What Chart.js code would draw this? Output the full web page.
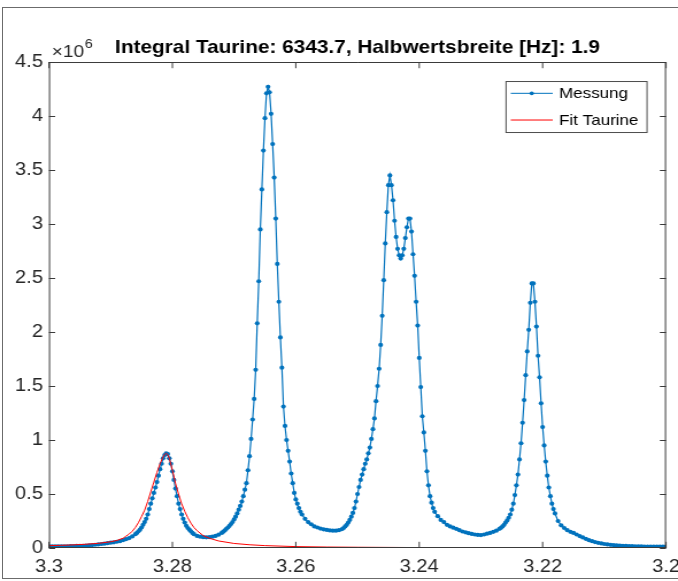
<!DOCTYPE html>
<html>
<head>
<meta charset="utf-8">
<script src="https://cdn.jsdelivr.net/npm/chart.js@4.4.1/dist/chart.umd.min.js"></script>
<style>
  html, body { margin: 0; padding: 0; background: #fff; overflow: hidden; }
  #frame { position: absolute; left: 2px; top: 7px; width: 720px; height: 570px; border: 1px solid #6b6b6b; }
  #wrap { position: absolute; left: 0; top: 0; width: 590px; height: 581px; transform: scaleX(1.149153); transform-origin: 0 0; }
</style>
</head>
<body>
<div id="frame"></div>
<div id="wrap"><canvas id="spectrum" width="590" height="581"></canvas></div>
<script>
// Messung (ppm, Intensität in 10^6)
var messungPpm = [
  3.3, 3.2995, 3.299, 3.2985, 3.298, 3.2975, 3.297, 3.2965, 3.296, 3.2955,
  3.295, 3.2945, 3.294, 3.2935, 3.293, 3.2925, 3.292, 3.2915, 3.291, 3.2905,
  3.29, 3.2895, 3.289, 3.2885, 3.288, 3.2875, 3.287, 3.2865, 3.286,
  3.28575, 3.2855, 3.28525, 3.285, 3.28475, 3.2845, 3.28425, 3.284, 3.28375, 3.2835,
  3.28325, 3.283, 3.28275, 3.2825, 3.28225, 3.282, 3.28175, 3.2815, 3.28125, 3.281,
  3.28075, 3.2805, 3.28025, 3.28, 3.27975, 3.2795, 3.27925, 3.279, 3.27875, 3.2785,
  3.27825, 3.278, 3.27775, 3.2775, 3.27725, 3.277, 3.27675, 3.2765,
  3.276, 3.2755, 3.275, 3.2745, 3.274, 3.2735, 3.273, 3.2725, 3.272,
  3.27175, 3.2715, 3.27125, 3.271, 3.27075, 3.2705, 3.27025, 3.27, 3.26975, 3.2695,
  3.26925, 3.269, 3.26875, 3.2685, 3.26825, 3.268, 3.26775, 3.2675, 3.26725, 3.267,
  3.26675, 3.2665, 3.26625, 3.266, 3.26575, 3.2655, 3.26525, 3.265, 3.26475, 3.2645,
  3.26425, 3.264, 3.26375, 3.2635, 3.26325, 3.263, 3.26275, 3.2625, 3.26225, 3.262,
  3.26175, 3.2615, 3.26125, 3.261, 3.26075, 3.2605, 3.26025, 3.26, 3.25975, 3.2595,
  3.25925, 3.259,
  3.2585, 3.258, 3.2575, 3.257, 3.2565, 3.256, 3.2555, 3.255, 3.2545, 3.254,
  3.2535, 3.253, 3.2525,
  3.25225, 3.252, 3.25175, 3.2515, 3.25125, 3.251, 3.25075, 3.2505, 3.25025, 3.25,
  3.24975, 3.2495, 3.24925, 3.249, 3.24875, 3.2485, 3.24825, 3.248, 3.24775, 3.2475,
  3.24725, 3.247, 3.24675, 3.2465, 3.24625, 3.246, 3.24575, 3.2455, 3.24525, 3.245,
  3.24475, 3.2445, 3.24425, 3.244, 3.24375, 3.2435, 3.24325, 3.243, 3.24275, 3.2425,
  3.24225, 3.242, 3.24175, 3.2415, 3.24125, 3.241, 3.24075, 3.2405, 3.24025, 3.24,
  3.23975, 3.2395, 3.23925, 3.239, 3.23875, 3.2385, 3.23825, 3.238, 3.23775, 3.2375,
  3.237, 3.2365, 3.236, 3.2355, 3.235, 3.2345, 3.234, 3.2335, 3.233, 3.2325,
  3.232, 3.2315, 3.231, 3.2305, 3.23, 3.2295, 3.229, 3.2285, 3.228, 3.2275, 3.227,
  3.22675, 3.2265, 3.22625, 3.226, 3.22575, 3.2255, 3.22525, 3.225, 3.22475, 3.2245,
  3.22425, 3.224, 3.22375, 3.2235, 3.22325, 3.223, 3.22275, 3.2225, 3.22225, 3.222,
  3.22175, 3.2215, 3.22125, 3.221, 3.22075, 3.2205, 3.22025, 3.22, 3.21975, 3.2195,
  3.21925, 3.219, 3.21875, 3.2185, 3.21825, 3.218,
  3.2175, 3.217, 3.2165, 3.216, 3.2155, 3.215, 3.2145, 3.214, 3.2135, 3.213,
  3.2125, 3.212, 3.2115, 3.211, 3.2105, 3.21, 3.2095, 3.209, 3.2085, 3.208,
  3.2075, 3.207, 3.2065, 3.206, 3.2055, 3.205, 3.2045, 3.204, 3.2035, 3.203,
  3.2025, 3.202, 3.2015, 3.201, 3.2005, 3.2
];
var messungMio = [
  0.015, 0.015, 0.015, 0.015, 0.015, 0.016, 0.016, 0.017, 0.018, 0.019,
  0.020, 0.021, 0.023, 0.024, 0.027, 0.030, 0.033, 0.037, 0.040, 0.045,
  0.049, 0.053, 0.058, 0.063, 0.072, 0.082, 0.092, 0.107, 0.128,
  0.14, 0.155, 0.17, 0.19, 0.215, 0.24, 0.27, 0.31, 0.36, 0.41,
  0.46, 0.51, 0.56, 0.61, 0.67, 0.73, 0.78, 0.83, 0.86, 0.877,
  0.87, 0.83, 0.78, 0.71, 0.63, 0.55, 0.48, 0.41, 0.36, 0.31,
  0.27, 0.235, 0.205, 0.185, 0.17, 0.155, 0.14, 0.128,
  0.112, 0.105, 0.100, 0.099, 0.100, 0.105, 0.112, 0.123, 0.14,
  0.151, 0.163, 0.178, 0.19, 0.205, 0.222, 0.24, 0.265, 0.29, 0.32,
  0.355, 0.39, 0.43, 0.48, 0.54, 0.60, 0.72, 0.85, 1.01, 1.19,
  1.38, 1.65, 2.08, 2.47, 2.95, 3.32, 3.68, 3.98, 4.21, 4.27,
  4.22, 4.02, 3.74, 3.43, 3.05, 2.63, 2.28, 1.95, 1.67, 1.31,
  1.13, 1.00, 0.90, 0.80, 0.69, 0.60, 0.51, 0.45, 0.41, 0.37,
  0.335, 0.31,
  0.27, 0.24, 0.22, 0.20, 0.19, 0.18, 0.173, 0.167, 0.163, 0.16,
  0.16, 0.165, 0.175,
  0.185, 0.20, 0.215, 0.235, 0.26, 0.29, 0.325, 0.37, 0.43, 0.50,
  0.565, 0.63, 0.68, 0.73, 0.78, 0.82, 0.877, 0.93, 1.01, 1.10,
  1.20, 1.36, 1.50, 1.66, 1.88, 2.15, 2.48, 2.82, 3.11, 3.36,
  3.45, 3.36, 3.22, 3.03, 2.88, 2.77, 2.71, 2.68, 2.71, 2.77,
  2.87, 2.97, 3.05, 3.05, 2.93, 2.72, 2.52, 2.28, 2.06, 1.76,
  1.49, 1.22, 1.07, 0.90, 0.71, 0.58, 0.48, 0.42, 0.37, 0.335,
  0.295, 0.26, 0.24, 0.215, 0.20, 0.188, 0.178, 0.165, 0.153, 0.145,
  0.137, 0.13, 0.125, 0.121, 0.12, 0.125, 0.133, 0.14, 0.15, 0.16, 0.178,
  0.187, 0.20, 0.215, 0.235, 0.255, 0.28, 0.31, 0.355, 0.41, 0.49,
  0.58, 0.68, 0.82, 0.97, 1.16, 1.37, 1.60, 1.82, 2.02, 2.27,
  2.45, 2.45, 2.28, 2.05, 1.78, 1.58, 1.34, 1.12, 0.95, 0.80,
  0.67, 0.56, 0.48, 0.41, 0.36, 0.32,
  0.25, 0.21, 0.185, 0.165, 0.15, 0.14, 0.125, 0.11, 0.098, 0.085,
  0.072, 0.063, 0.055, 0.048, 0.042, 0.037, 0.033, 0.029, 0.026, 0.024,
  0.022, 0.020, 0.019, 0.018, 0.017, 0.016, 0.015, 0.015, 0.014, 0.014,
  0.013, 0.013, 0.013, 0.012, 0.012, 0.012
];

// Fit Taurine
var fitPpm = [
  3.3, 3.298, 3.296, 3.294, 3.292, 3.29, 3.289, 3.288, 3.2875, 3.287,
  3.2865, 3.286, 3.2855, 3.285, 3.2845, 3.284, 3.2835, 3.283, 3.2825, 3.282,
  3.2815, 3.28125, 3.281, 3.28075, 3.2805, 3.28, 3.2795, 3.279, 3.2785, 3.278,
  3.2775, 3.277, 3.2765, 3.276, 3.275, 3.274, 3.2725, 3.27, 3.2675, 3.265,
  3.26, 3.255, 3.25, 3.24, 3.23, 3.22, 3.21, 3.2
];
var fitMio = [
  0.022, 0.025, 0.029, 0.035, 0.043, 0.058, 0.07, 0.09, 0.11, 0.13,
  0.155, 0.19, 0.235, 0.29, 0.35, 0.43, 0.52, 0.61, 0.70, 0.78,
  0.845, 0.867, 0.877, 0.865, 0.83, 0.72, 0.60, 0.50, 0.41, 0.34,
  0.28, 0.23, 0.19, 0.16, 0.115, 0.09, 0.065, 0.042, 0.03, 0.022,
  0.013, 0.009, 0.007, 0.004, 0.003, 0.002, 0.002, 0.001
];

var xTicks = [3.3, 3.28, 3.26, 3.24, 3.22, 3.2];
var yTicks = [0, 0.5, 1, 1.5, 2, 2.5, 3, 3.5, 4, 4.5];
var titleText = "Integral Taurine: 6343.7, Halbwertsbreite [Hz]: 1.9";
var fontFamily = "'Liberation Sans', Arial, Helvetica, sans-serif";
var stretch = 678 / 590;

function toPoints(xs, ys) {
  var pts = [];
  for (let i = 0; i < xs.length; i++) {
    pts.push({x: xs[i], y: ys[i]});
  }
  return pts;
}

function fmt(v) {
  return String(+v.toFixed(2));
}

// box with inward ticks on all four sides, like the MATLAB axes
var axesBox = {
  id: "axesBox",
  afterDraw: function(chart) {
    var ctx = chart.ctx;
    var a = chart.chartArea;
    var x = chart.scales.x;
    var y = chart.scales.y;
    var tx = 6.2;
    var ty = 6.2 / stretch;

    ctx.save();
    ctx.strokeStyle = "#3a3a3a";
    ctx.lineWidth = 1;
    ctx.beginPath();
    ctx.moveTo(a.left, a.top + 0.5);
    ctx.lineTo(a.right, a.top + 0.5);
    ctx.moveTo(a.left, a.bottom - 0.5);
    ctx.lineTo(a.right, a.bottom - 0.5);
    ctx.moveTo(a.left + 0.5, a.top);
    ctx.lineTo(a.left + 0.5, a.bottom);
    ctx.moveTo(a.right - 0.5, a.top);
    ctx.lineTo(a.right - 0.5, a.bottom);

    x.ticks.forEach(function(t) {
      var px = x.getPixelForValue(t.value);
      ctx.moveTo(px, a.bottom);
      ctx.lineTo(px, a.bottom - tx);
      ctx.moveTo(px, a.top);
      ctx.lineTo(px, a.top + tx);
    });
    y.ticks.forEach(function(t) {
      var py = Math.round(y.getPixelForValue(t.value)) + 0.5;
      ctx.moveTo(a.left, py);
      ctx.lineTo(a.left + ty, py);
      ctx.moveTo(a.right, py);
      ctx.lineTo(a.right - ty, py);
    });
    ctx.stroke();

    // exponent label
    ctx.fillStyle = "#262626";
    ctx.textBaseline = "alphabetic";
    ctx.textAlign = "left";
    ctx.font = "16.5px " + fontFamily;
    ctx.fillText("\u00d710", a.left + 2.5, 56.8);
    var w = ctx.measureText("\u00d710").width;
    ctx.font = "12.5px " + fontFamily;
    ctx.fillText("6", a.left + 2.5 + w + 0.6, 48.3);
    ctx.restore();
  }
};

var legendBox = {
  id: "legendBox",
  afterDraw: function(chart) {
    var ctx = chart.ctx;
    var a = chart.chartArea;
    var left = a.right - 160 / stretch;
    var right = a.right - 19 / stretch;
    var top = a.top + 19;
    var bottom = a.top + 70;

    ctx.save();
    ctx.fillStyle = "#fff";
    ctx.fillRect(left, top, right - left, bottom - top);
    ctx.strokeStyle = "#4d4d4d";
    ctx.lineWidth = 1;
    ctx.strokeRect(left, top + 0.5, right - left, bottom - top);

    chart.data.datasets.forEach(function(ds, i) {
      var yy = top + 12.3 + i * 26.7;
      ctx.strokeStyle = ds.borderColor;
      ctx.lineWidth = 1;
      ctx.beginPath();
      ctx.moveTo(left + 4.7 / stretch, yy);
      ctx.lineTo(left + 46.7 / stretch, yy);
      ctx.stroke();
      if (ds.pointRadius > 0) {
        ctx.fillStyle = ds.pointBackgroundColor;
        ctx.beginPath();
        ctx.arc(left + 25.7 / stretch, yy, 1.9, 0, Math.PI * 2);
        ctx.fill();
      }
      ctx.fillStyle = "#000";
      ctx.font = "14.8px " + fontFamily;
      ctx.textBaseline = "middle";
      ctx.textAlign = "left";
      ctx.fillText(ds.label, left + 53 / stretch, yy + 0.5);
    });
    ctx.restore();
  }
};

var spectrumChart = new Chart(document.getElementById("spectrum"), {
  type: "line",
  data: {
    datasets: [
      {
        label: "Messung",
        data: toPoints(messungPpm, messungMio),
        borderColor: "#0072BD",
        borderWidth: 1.2,
        pointRadius: 2.1,
        pointBackgroundColor: "#0072BD",
        pointBorderWidth: 0,
        tension: 0,
        order: 1
      },
      {
        label: "Fit Taurine",
        data: toPoints(fitPpm, fitMio),
        borderColor: "#ff0000",
        borderWidth: 1,
        pointRadius: 0,
        tension: 0,
        order: 0
      }
    ]
  },
  options: {
    responsive: false,
    animation: false,
    devicePixelRatio: 1,
    locale: "en-US",
    layout: { padding: { left: 0, right: 10.4, top: 0, bottom: 0 } },
    plugins: {
      legend: { display: false },
      tooltip: { enabled: false },
      title: {
        display: true,
        text: titleText,
        fullSize: false,
        color: "#000",
        font: { family: fontFamily, size: 18.1, weight: "bold", lineHeight: 1.2 },
        padding: { top: 37, bottom: 3.3 }
      }
    },
    scales: {
      x: {
        type: "linear",
        reverse: true,
        min: 3.2,
        max: 3.3,
        grid: { display: false, drawTicks: false },
        border: { display: false },
        afterBuildTicks: function(scale) {
          scale.ticks = xTicks.map(function(v) { return {value: v}; });
        },
        afterFit: function(scale) {
          scale.height = 33;
          scale.paddingLeft = 0;
          scale.paddingRight = 0;
        },
        ticks: {
          autoSkip: false,
          maxRotation: 0,
          padding: 8.5,
          color: "#262626",
          font: { family: fontFamily, size: 17.5 },
          callback: function(v) { return fmt(v); }
        }
      },
      y: {
        min: 0,
        max: 4.5,
        grid: { display: false, drawTicks: false },
        border: { display: false },
        afterBuildTicks: function(scale) {
          scale.ticks = yTicks.map(function(v) { return {value: v}; });
        },
        afterFit: function(scale) {
          scale.width = 42.6;
          scale.paddingTop = 0;
          scale.paddingBottom = 0;
        },
        ticks: {
          autoSkip: false,
          padding: 5.2,
          color: "#262626",
          font: { family: fontFamily, size: 17.5 },
          callback: function(v) { return fmt(v); }
        }
      }
    }
  },
  plugins: [axesBox, legendBox]
});
</script>
</body>
</html>
